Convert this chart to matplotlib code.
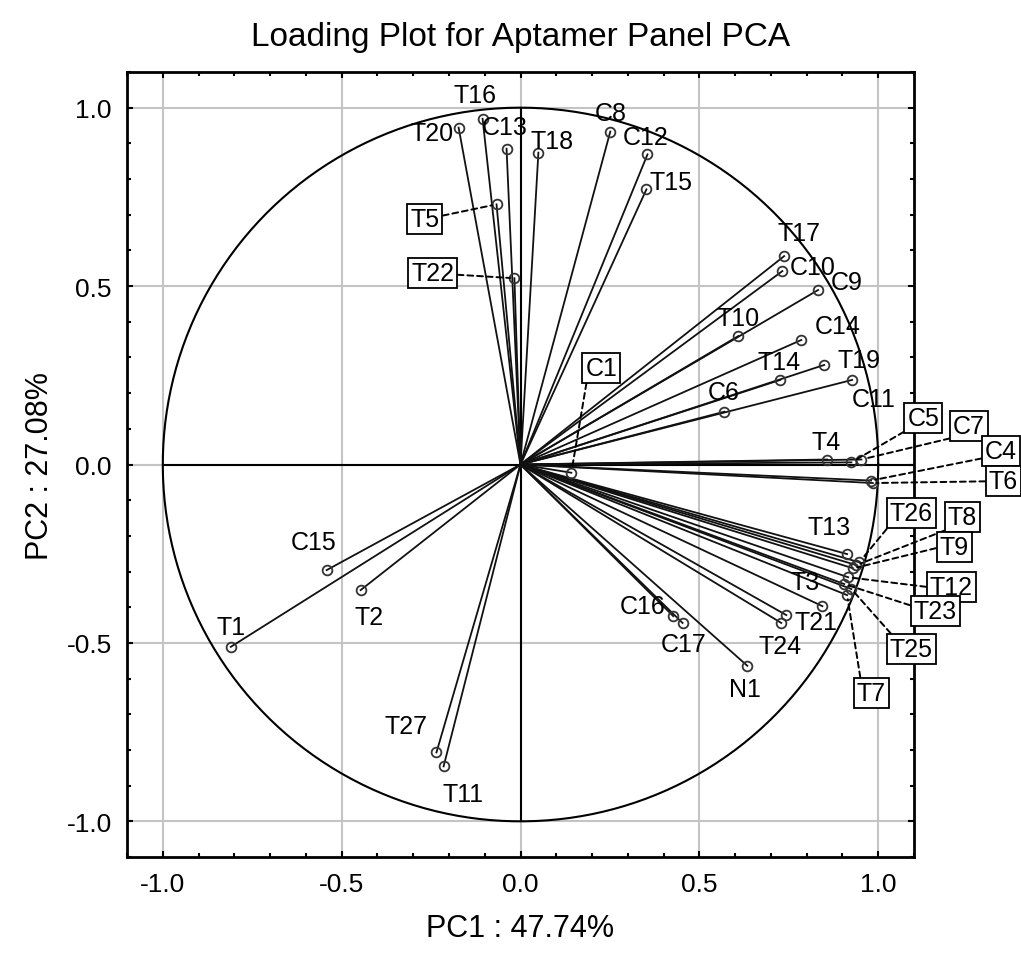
import matplotlib
matplotlib.use("Agg")
import matplotlib.pyplot as plt
import numpy as np
from matplotlib.ticker import MultipleLocator, FormatStrFormatter

plt.rcParams['font.family'] = ['Liberation Sans', 'DejaVu Sans']

# loadings
names = ["T16", "T20", "C13", "T18", "C8", "C12", "T15", "T5", "T22",
         "T17", "C10", "C9", "T10", "C14", "T14", "T19", "C11", "C6",
         "C1", "T4", "C5", "C7", "C4", "T6",
         "T13", "T26", "T8", "T9", "T12", "T23", "T25", "T7", "T3",
         "T21", "T24", "C16", "C17", "N1",
         "C15", "T2", "T1", "T27", "T11"]
pc1 = [-0.106, -0.173, -0.039, 0.050, 0.251, 0.355, 0.352, -0.067, -0.017,
       0.737, 0.732, 0.832, 0.609, 0.785, 0.726, 0.849, 0.927, 0.570,
       0.142, 0.857, 0.925, 0.953, 0.980, 0.985,
       0.913, 0.947, 0.939, 0.930, 0.916, 0.905, 0.925, 0.913, 0.844,
       0.743, 0.729, 0.427, 0.453, 0.634,
       -0.542, -0.447, -0.810, -0.235, -0.215]
pc2 = [0.969, 0.944, 0.885, 0.874, 0.933, 0.869, 0.771, 0.729, 0.522,
       0.584, 0.542, 0.489, 0.360, 0.349, 0.237, 0.279, 0.237, 0.148,
       -0.023, 0.014, 0.006, 0.014, -0.045, -0.052,
       -0.251, -0.274, -0.282, -0.291, -0.316, -0.335, -0.349, -0.366, -0.397,
       -0.422, -0.444, -0.425, -0.444, -0.564,
       -0.296, -0.352, -0.511, -0.807, -0.846]

x_label = "PC1 : 47.74%"
y_label = "PC2 : 27.08%"
title = "Loading Plot for Aptamer Panel PCA"

# label offsets (pixels) for plain labels
offsets = {"T16": (-8, 24), "T20": (-27, -5), "C13": (-2, 22), "T18": (14, 12),
           "C8": (0, 19), "C12": (-2, 17), "T15": (25, 7), "T17": (15, 23),
           "C10": (30, 4), "C9": (29, 8), "T10": (0, 18), "C14": (36, 14),
           "T14": (-1, 18), "T19": (35, 5), "C11": (22, -19), "C6": (-1, 20),
           "T4": (-1, 18), "T13": (-18, 27), "T3": (-17, 24), "T21": (30, -7),
           "T24": (-1, -23), "C16": (-31, 10), "C17": (1, -21), "N1": (-2, -23),
           "C15": (-13, 28), "T2": (8, -27), "T1": (0, 20), "T27": (-30, 26),
           "T11": (19, -28)}
# boxed labels (data coords of the box centre) and leader start
boxes = {"T5": ((-0.268, 0.687), (0.5, 0.5)), "T22": ((-0.246, 0.536), (0.5, 0.5)),
         "C1": ((0.226, 0.271), (0.05, 0.0)), "C5": ((1.126, 0.131), (0.0, 0.0)),
         "C7": ((1.254, 0.109), (0.0, 0.0)), "C4": ((1.343, 0.039), (0.0, 0.2)),
         "T6": ((1.35, -0.047), (0.0, 0.5)), "T26": ((1.092, -0.137), (0.0, 0.0)),
         "T8": ((1.235, -0.148), (0.0, 0.0)), "T9": ((1.212, -0.232), (0.0, 0.5)),
         "T12": ((1.204, -0.344), (0.0, 0.5)), "T23": ((1.159, -0.411), (0.0, 0.7)),
         "T25": ((1.092, -0.517), (0.1, 1.0)), "T7": ((0.980, -0.640), (0.15, 1.0))}

fig = plt.figure(figsize=(10.21, 9.54), dpi=100)
ax = fig.add_axes([0.1244, 0.1006, 0.7708, 0.8229])
ax.set_xlim(-1.1, 1.1)
ax.set_ylim(-1.1, 1.1)

ax.xaxis.set_major_locator(MultipleLocator(0.5))
ax.yaxis.set_major_locator(MultipleLocator(0.5))
ax.xaxis.set_minor_locator(MultipleLocator(0.1))
ax.yaxis.set_minor_locator(MultipleLocator(0.1))
ax.xaxis.set_major_formatter(FormatStrFormatter('%.1f'))
ax.yaxis.set_major_formatter(FormatStrFormatter('%.1f'))
ax.grid(True, which='major', color='#c4c4c4', lw=1.5, zorder=0)
ax.set_axisbelow(True)
ax.tick_params(which='both', direction='in', top=True, right=True, width=1.5)
ax.tick_params(which='major', length=4, labelsize=19, pad=11)
ax.tick_params(which='minor', length=3)
for s in ax.spines.values():
    s.set_linewidth(2)

# unit circle and axes through the origin
t = np.linspace(0, 2 * np.pi, 400)
ax.plot(np.cos(t), np.sin(t), color='k', lw=1.5, zorder=2)
ax.plot([-1, 1.1], [0, 0], color='k', lw=1.5, zorder=2)
ax.plot([0, 0], [-1, 1], color='k', lw=1.5, zorder=2)

for n, x, y in zip(names, pc1, pc2):
    ax.plot([0, x], [0, y], color='#111111', lw=1.3, zorder=3)
    ax.plot(x, y, 'o', mfc='none', mec='#333333', mew=1.3, ms=7, zorder=4)
    if n in offsets:
        ax.annotate(n, (x, y), xytext=offsets[n], textcoords='offset pixels',
                    ha='center', va='center', fontsize=18, zorder=5)
    else:
        pos, rp = boxes[n]
        ax.annotate(n, (x, y), xytext=pos, textcoords='data',
                    ha='center', va='center', fontsize=18, zorder=6,
                    annotation_clip=False,
                    bbox=dict(boxstyle='square,pad=0.12', fc='white', ec='black', lw=1.3),
                    arrowprops=dict(arrowstyle='-', ls=(0, (3, 2)), lw=1.4, color='black',
                                    shrinkA=0, shrinkB=3, relpos=rp))

ax.set_xlabel(x_label, fontsize=22, labelpad=12)
ax.set_ylabel(y_label, fontsize=22, labelpad=8)
fig.suptitle(title, fontsize=24, x=0.51, y=0.977, va='top')

fig.savefig("out.png", dpi=100)
